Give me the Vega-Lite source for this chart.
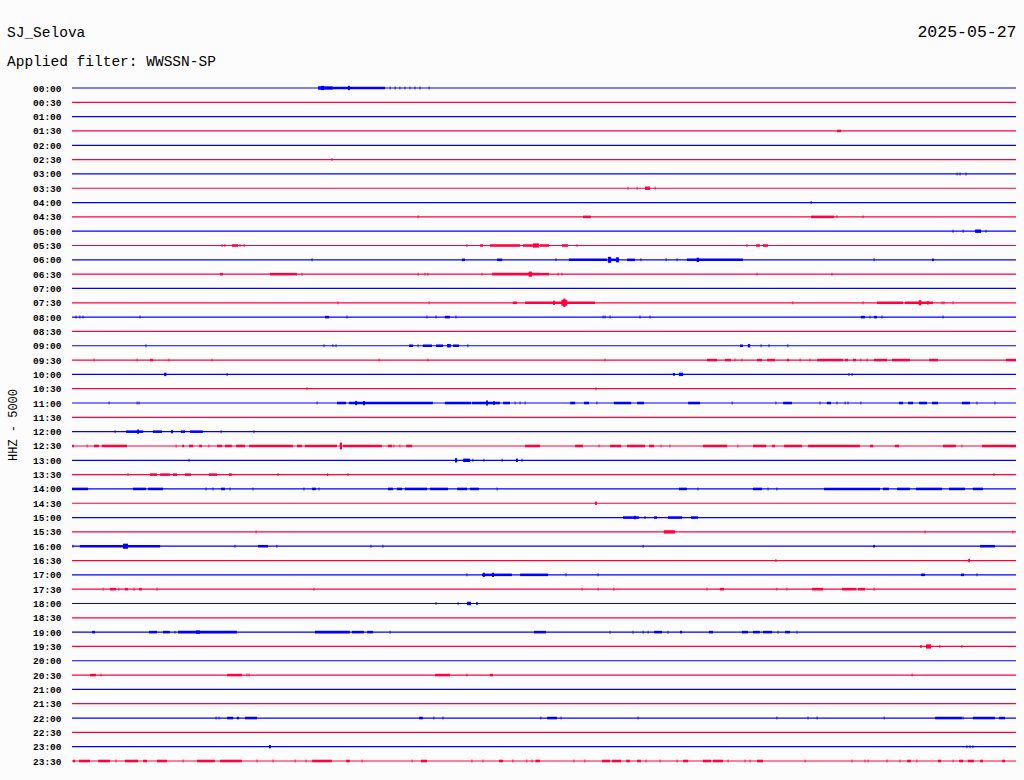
{
"$schema": "https://vega.github.io/schema/vega-lite/v6.json",
"width": 944, "height": 673,
"autosize": {"type": "none"},
"padding": {"left": 72, "top": 88, "right": 8, "bottom": 19},
"background": "#fcfcfc",
"config": {"view": {"stroke": null}, "font": "Liberation Mono"},
"title": {"text": "SJ_Selova", "subtitle": "Applied filter: WWSSN-SP", "anchor": "start", "frame": "group", "dx": -65, "dy": 50, "font": "Liberation Mono", "fontSize": 14.5, "fontWeight": "normal", "color": "#000000", "subtitleFont": "Liberation Mono", "subtitleFontSize": 14.5, "subtitleColor": "#000000", "subtitlePadding": 14},
"datasets": {
"rows": [{"t":"00:00"},{"t":"00:30"},{"t":"01:00"},{"t":"01:30"},{"t":"02:00"},{"t":"02:30"},{"t":"03:00"},{"t":"03:30"},{"t":"04:00"},{"t":"04:30"},{"t":"05:00"},{"t":"05:30"},{"t":"06:00"},{"t":"06:30"},{"t":"07:00"},{"t":"07:30"},{"t":"08:00"},{"t":"08:30"},{"t":"09:00"},{"t":"09:30"},{"t":"10:00"},{"t":"10:30"},{"t":"11:00"},{"t":"11:30"},{"t":"12:00"},{"t":"12:30"},{"t":"13:00"},{"t":"13:30"},{"t":"14:00"},{"t":"14:30"},{"t":"15:00"},{"t":"15:30"},{"t":"16:00"},{"t":"16:30"},{"t":"17:00"},{"t":"17:30"},{"t":"18:00"},{"t":"18:30"},{"t":"19:00"},{"t":"19:30"},{"t":"20:00"},{"t":"20:30"},{"t":"21:00"},{"t":"21:30"},{"t":"22:00"},{"t":"22:30"},{"t":"23:00"},{"t":"23:30"}],
"bursts": [
{"t":"00:00","a":7.82,"b":8.29,"v":4},{"t":"00:00","a":8.29,"b":9.95,"v":3},{"t":"00:00","a":7.91,"b":8.01,"v":5},{"t":"00:00","a":8.77,"b":8.83,"v":5},
{"t":"01:30","a":24.31,"b":24.44,"v":3},
{"t":"03:30","a":18.21,"b":18.37,"v":4},
{"t":"04:30","a":16.24,"b":16.49,"v":3},{"t":"04:30","a":23.49,"b":24.22,"v":3},
{"t":"05:00","a":28.70,"b":28.89,"v":4},
{"t":"05:30","a":5.08,"b":5.28,"v":3},{"t":"05:30","a":12.97,"b":13.06,"v":3},{"t":"05:30","a":13.28,"b":14.24,"v":3},{"t":"05:30","a":14.33,"b":14.65,"v":3},{"t":"05:30","a":14.65,"b":14.84,"v":5},{"t":"05:30","a":14.87,"b":15.16,"v":3},{"t":"05:30","a":15.57,"b":15.76,"v":3},{"t":"05:30","a":21.74,"b":21.86,"v":3},{"t":"05:30","a":21.96,"b":22.12,"v":3},
{"t":"06:00","a":12.39,"b":12.49,"v":3},{"t":"06:00","a":13.51,"b":13.67,"v":3},{"t":"06:00","a":15.79,"b":17.00,"v":3},{"t":"06:00","a":17.03,"b":17.13,"v":7},{"t":"06:00","a":17.10,"b":17.29,"v":3},{"t":"06:00","a":17.29,"b":17.38,"v":6},{"t":"06:00","a":17.64,"b":17.89,"v":3},{"t":"06:00","a":19.54,"b":21.32,"v":3},{"t":"06:00","a":19.85,"b":19.93,"v":5},{"t":"06:00","a":27.33,"b":27.39,"v":3},
{"t":"06:30","a":4.70,"b":4.80,"v":3},{"t":"06:30","a":6.29,"b":7.15,"v":3},{"t":"06:30","a":13.35,"b":14.87,"v":3},{"t":"06:30","a":14.51,"b":14.62,"v":6},{"t":"06:30","a":14.87,"b":15.16,"v":3},
{"t":"07:30","a":14.01,"b":14.14,"v":3},{"t":"07:30","a":14.40,"b":16.62,"v":3},{"t":"07:30","a":15.29,"b":15.35,"v":5},{"t":"07:30","a":15.55,"b":15.74,"v":7},{"t":"07:30","a":15.61,"b":15.68,"v":10},{"t":"07:30","a":25.58,"b":26.41,"v":3},{"t":"07:30","a":26.47,"b":27.36,"v":3},{"t":"07:30","a":26.91,"b":26.99,"v":6},{"t":"07:30","a":27.17,"b":27.23,"v":4},
{"t":"08:00","a":8.04,"b":8.17,"v":3},{"t":"08:00","a":11.85,"b":12.01,"v":3},{"t":"08:00","a":25.07,"b":25.20,"v":3},{"t":"08:00","a":25.49,"b":25.58,"v":3},
{"t":"09:00","a":10.71,"b":10.84,"v":3},{"t":"09:00","a":11.15,"b":11.44,"v":3},{"t":"09:00","a":11.57,"b":11.79,"v":3},{"t":"09:00","a":11.92,"b":12.04,"v":4},{"t":"09:00","a":12.11,"b":12.30,"v":3},{"t":"09:00","a":21.23,"b":21.32,"v":3},{"t":"09:00","a":21.48,"b":21.55,"v":4},
{"t":"09:30","a":2.48,"b":2.57,"v":3},{"t":"09:30","a":20.18,"b":20.50,"v":3},{"t":"09:30","a":20.75,"b":20.94,"v":3},{"t":"09:30","a":21.77,"b":21.93,"v":3},{"t":"09:30","a":22.09,"b":22.34,"v":3},{"t":"09:30","a":22.72,"b":22.79,"v":3},{"t":"09:30","a":23.68,"b":24.50,"v":3},{"t":"09:30","a":24.57,"b":24.66,"v":3},{"t":"09:30","a":24.82,"b":24.92,"v":3},{"t":"09:30","a":25.49,"b":25.90,"v":3},{"t":"09:30","a":26.06,"b":26.63,"v":3},{"t":"09:30","a":27.24,"b":27.52,"v":3},{"t":"09:30","a":29.68,"b":30.00,"v":3},
{"t":"10:00","a":2.93,"b":3.00,"v":4},{"t":"10:00","a":19.10,"b":19.16,"v":3},{"t":"10:00","a":19.29,"b":19.42,"v":4},
{"t":"11:00","a":8.42,"b":8.71,"v":3},{"t":"11:00","a":8.80,"b":11.47,"v":3},{"t":"11:00","a":9.00,"b":9.06,"v":5},{"t":"11:00","a":9.25,"b":9.31,"v":5},{"t":"11:00","a":11.85,"b":12.68,"v":3},{"t":"11:00","a":12.71,"b":13.60,"v":3},{"t":"11:00","a":13.16,"b":13.22,"v":6},{"t":"11:00","a":13.38,"b":13.44,"v":4},{"t":"11:00","a":13.70,"b":13.92,"v":3},{"t":"11:00","a":15.83,"b":15.99,"v":3},{"t":"11:00","a":16.27,"b":16.43,"v":3},{"t":"11:00","a":17.22,"b":17.77,"v":3},{"t":"11:00","a":17.96,"b":18.18,"v":3},{"t":"11:00","a":19.58,"b":19.96,"v":3},{"t":"11:00","a":22.60,"b":22.88,"v":3},{"t":"11:00","a":23.99,"b":24.12,"v":3},{"t":"11:00","a":26.28,"b":26.41,"v":3},{"t":"11:00","a":26.57,"b":26.73,"v":3},{"t":"11:00","a":26.92,"b":27.17,"v":3},{"t":"11:00","a":27.33,"b":27.52,"v":3},{"t":"11:00","a":28.28,"b":28.54,"v":3},
{"t":"12:00","a":1.72,"b":2.26,"v":3},{"t":"12:00","a":2.07,"b":2.13,"v":5},{"t":"12:00","a":2.57,"b":2.86,"v":3},{"t":"12:00","a":3.15,"b":3.21,"v":4},{"t":"12:00","a":3.46,"b":3.59,"v":3},{"t":"12:00","a":3.75,"b":4.16,"v":3},
{"t":"12:30","a":0.00,"b":0.06,"v":3},{"t":"12:30","a":0.70,"b":0.86,"v":3},{"t":"12:30","a":0.95,"b":1.75,"v":3},{"t":"12:30","a":3.50,"b":3.56,"v":3},{"t":"12:30","a":3.72,"b":3.85,"v":3},{"t":"12:30","a":4.04,"b":4.13,"v":3},{"t":"12:30","a":4.61,"b":4.77,"v":3},{"t":"12:30","a":4.86,"b":5.08,"v":3},{"t":"12:30","a":5.21,"b":5.50,"v":3},{"t":"12:30","a":5.63,"b":7.02,"v":3},{"t":"12:30","a":7.15,"b":7.31,"v":3},{"t":"12:30","a":7.40,"b":8.42,"v":3},{"t":"12:30","a":8.51,"b":8.58,"v":8},{"t":"12:30","a":8.61,"b":9.85,"v":3},{"t":"12:30","a":10.04,"b":10.17,"v":3},{"t":"12:30","a":10.62,"b":10.81,"v":3},{"t":"12:30","a":14.40,"b":14.87,"v":3},{"t":"12:30","a":15.99,"b":16.24,"v":3},{"t":"12:30","a":17.10,"b":17.45,"v":3},{"t":"12:30","a":17.64,"b":18.21,"v":3},{"t":"12:30","a":18.34,"b":18.50,"v":3},{"t":"12:30","a":20.05,"b":20.82,"v":3},{"t":"12:30","a":21.64,"b":22.06,"v":3},{"t":"12:30","a":22.25,"b":22.34,"v":3},{"t":"12:30","a":22.63,"b":23.20,"v":3},{"t":"12:30","a":23.39,"b":25.04,"v":3},{"t":"12:30","a":25.36,"b":25.46,"v":3},{"t":"12:30","a":26.15,"b":26.28,"v":3},{"t":"12:30","a":27.68,"b":28.09,"v":3},{"t":"12:30","a":28.92,"b":30.00,"v":3},
{"t":"13:00","a":12.17,"b":12.24,"v":5},{"t":"13:00","a":12.43,"b":12.65,"v":4},{"t":"13:00","a":14.11,"b":14.17,"v":4},
{"t":"13:30","a":2.48,"b":2.70,"v":3},{"t":"13:30","a":2.80,"b":3.11,"v":3},{"t":"13:30","a":3.21,"b":3.34,"v":3},{"t":"13:30","a":3.59,"b":3.78,"v":3},{"t":"13:30","a":4.35,"b":4.61,"v":3},{"t":"13:30","a":4.99,"b":5.08,"v":3},{"t":"13:30","a":8.10,"b":8.14,"v":3},
{"t":"14:00","a":0.00,"b":0.51,"v":3},{"t":"14:00","a":1.94,"b":2.35,"v":3},{"t":"14:00","a":2.42,"b":2.89,"v":3},{"t":"14:00","a":4.74,"b":4.86,"v":3},{"t":"14:00","a":7.63,"b":7.75,"v":3},{"t":"14:00","a":10.04,"b":10.20,"v":3},{"t":"14:00","a":10.33,"b":10.49,"v":3},{"t":"14:00","a":10.58,"b":11.28,"v":3},{"t":"14:00","a":11.38,"b":11.95,"v":3},{"t":"14:00","a":12.24,"b":12.55,"v":3},{"t":"14:00","a":12.65,"b":12.93,"v":3},{"t":"14:00","a":19.29,"b":19.54,"v":3},{"t":"14:00","a":21.64,"b":21.93,"v":3},{"t":"14:00","a":23.90,"b":25.68,"v":3},{"t":"14:00","a":25.77,"b":25.96,"v":3},{"t":"14:00","a":26.22,"b":26.63,"v":3},{"t":"14:00","a":26.82,"b":27.65,"v":3},{"t":"14:00","a":27.87,"b":28.38,"v":3},{"t":"14:00","a":28.63,"b":28.95,"v":3},
{"t":"14:30","a":16.62,"b":16.68,"v":4},
{"t":"15:00","a":17.51,"b":18.02,"v":3},{"t":"15:00","a":17.86,"b":17.92,"v":4},{"t":"15:00","a":18.50,"b":18.59,"v":3},{"t":"15:00","a":18.94,"b":19.39,"v":3},{"t":"15:00","a":19.67,"b":19.89,"v":3},
{"t":"15:30","a":18.81,"b":19.16,"v":4},
{"t":"16:00","a":0.25,"b":1.62,"v":3},{"t":"16:00","a":1.62,"b":1.78,"v":6},{"t":"16:00","a":1.78,"b":2.80,"v":3},{"t":"16:00","a":5.91,"b":6.23,"v":3},{"t":"16:00","a":25.46,"b":25.52,"v":3},{"t":"16:00","a":28.86,"b":29.33,"v":3},
{"t":"16:30","a":28.48,"b":28.54,"v":4},
{"t":"17:00","a":13.03,"b":13.98,"v":3},{"t":"17:00","a":13.06,"b":13.12,"v":5},{"t":"17:00","a":13.35,"b":13.41,"v":5},{"t":"17:00","a":14.24,"b":15.13,"v":3},{"t":"17:00","a":26.98,"b":27.11,"v":3},{"t":"17:00","a":28.25,"b":28.35,"v":3},
{"t":"17:30","a":1.21,"b":1.40,"v":3},{"t":"17:30","a":1.68,"b":1.78,"v":3},{"t":"17:30","a":2.13,"b":2.22,"v":3},{"t":"17:30","a":20.59,"b":20.72,"v":3},{"t":"17:30","a":23.52,"b":23.87,"v":3},{"t":"17:30","a":24.47,"b":24.92,"v":3},{"t":"17:30","a":24.98,"b":25.20,"v":3},
{"t":"18:00","a":12.55,"b":12.68,"v":4},{"t":"18:00","a":12.84,"b":12.90,"v":3},
{"t":"19:00","a":0.64,"b":0.73,"v":3},{"t":"19:00","a":2.45,"b":2.70,"v":3},{"t":"19:00","a":2.89,"b":3.11,"v":3},{"t":"19:00","a":3.37,"b":5.24,"v":3},{"t":"19:00","a":3.94,"b":4.07,"v":4},{"t":"19:00","a":7.72,"b":8.83,"v":3},{"t":"19:00","a":8.90,"b":9.28,"v":3},{"t":"19:00","a":9.38,"b":9.57,"v":3},{"t":"19:00","a":14.68,"b":15.06,"v":3},{"t":"19:00","a":18.50,"b":18.75,"v":3},{"t":"19:00","a":19.32,"b":19.39,"v":3},{"t":"19:00","a":20.24,"b":20.37,"v":3},{"t":"19:00","a":21.29,"b":21.48,"v":3},{"t":"19:00","a":21.64,"b":21.86,"v":3},{"t":"19:00","a":21.96,"b":22.25,"v":3},{"t":"19:00","a":22.66,"b":22.82,"v":3},
{"t":"19:30","a":26.95,"b":27.01,"v":3},{"t":"19:30","a":27.14,"b":27.30,"v":5},
{"t":"20:30","a":0.57,"b":0.76,"v":3},{"t":"20:30","a":4.93,"b":5.40,"v":3},{"t":"20:30","a":11.54,"b":12.01,"v":3},{"t":"20:30","a":13.28,"b":13.38,"v":3},
{"t":"22:00","a":4.93,"b":5.12,"v":3},{"t":"22:00","a":5.24,"b":5.31,"v":3},{"t":"22:00","a":5.50,"b":5.88,"v":3},{"t":"22:00","a":11.03,"b":11.15,"v":3},{"t":"22:00","a":15.10,"b":15.41,"v":3},{"t":"22:00","a":27.43,"b":28.28,"v":3},{"t":"22:00","a":28.63,"b":29.33,"v":3},{"t":"22:00","a":29.46,"b":29.65,"v":3},
{"t":"23:00","a":6.26,"b":6.32,"v":4},
{"t":"23:30","a":0.03,"b":0.10,"v":3},{"t":"23:30","a":0.22,"b":0.57,"v":3},{"t":"23:30","a":0.83,"b":1.21,"v":3},{"t":"23:30","a":1.68,"b":2.10,"v":3},{"t":"23:30","a":2.26,"b":2.38,"v":3},{"t":"23:30","a":2.70,"b":3.02,"v":3},{"t":"23:30","a":3.97,"b":4.54,"v":3},{"t":"23:30","a":4.70,"b":5.40,"v":3},{"t":"23:30","a":7.63,"b":8.26,"v":3},{"t":"23:30","a":8.71,"b":8.83,"v":3},{"t":"23:30","a":11.09,"b":11.28,"v":3},{"t":"23:30","a":13.57,"b":13.70,"v":3},{"t":"23:30","a":14.73,"b":14.87,"v":3},{"t":"23:30","a":16.84,"b":17.10,"v":3},{"t":"23:30","a":17.16,"b":17.45,"v":3},{"t":"23:30","a":17.61,"b":17.73,"v":3},{"t":"23:30","a":17.96,"b":18.08,"v":3},{"t":"23:30","a":19.42,"b":19.58,"v":3},{"t":"23:30","a":20.05,"b":20.31,"v":3},{"t":"23:30","a":20.37,"b":20.69,"v":3},{"t":"23:30","a":21.77,"b":21.96,"v":3},{"t":"23:30","a":26.54,"b":26.66,"v":3},{"t":"23:30","a":27.52,"b":27.62,"v":3},{"t":"23:30","a":28.19,"b":28.32,"v":3},{"t":"23:30","a":28.47,"b":28.66,"v":3},{"t":"23:30","a":28.86,"b":28.95,"v":3},{"t":"23:30","a":29.56,"b":29.65,"v":3}
],
"ticks": [
{"t":"00:00","a":10.11},{"t":"00:00","a":10.27},{"t":"00:00","a":10.42},{"t":"00:00","a":10.58},{"t":"00:00","a":10.74},{"t":"00:00","a":10.90},{"t":"00:00","a":11.06},{"t":"00:00","a":11.35},
{"t":"02:30","a":8.26},
{"t":"03:00","a":28.13},{"t":"03:00","a":28.22},{"t":"03:00","a":28.41},
{"t":"03:30","a":17.67},{"t":"03:30","a":17.96},{"t":"03:30","a":18.53},
{"t":"04:00","a":23.49},
{"t":"04:30","a":11.00},{"t":"04:30","a":24.31},{"t":"04:30","a":25.14},
{"t":"05:00","a":28.00},{"t":"05:00","a":28.32},{"t":"05:00","a":29.05},
{"t":"05:30","a":4.77},{"t":"05:30","a":4.86},{"t":"05:30","a":5.34},{"t":"05:30","a":5.47},{"t":"05:30","a":12.55},{"t":"05:30","a":16.05},{"t":"05:30","a":21.45},
{"t":"06:00","a":7.63},{"t":"06:00","a":15.38},{"t":"06:00","a":18.08},{"t":"06:00","a":18.88},{"t":"06:00","a":19.23},{"t":"06:00","a":25.49},
{"t":"06:30","a":7.31},{"t":"06:30","a":11.00},{"t":"06:30","a":11.22},{"t":"06:30","a":11.31},{"t":"06:30","a":13.03},{"t":"06:30","a":15.45},{"t":"06:30","a":15.57},{"t":"06:30","a":21.77},{"t":"06:30","a":24.15},
{"t":"07:30","a":8.45},{"t":"07:30","a":11.35},{"t":"07:30","a":22.91},{"t":"07:30","a":25.14},{"t":"07:30","a":27.65},{"t":"07:30","a":27.71},{"t":"07:30","a":28.00},
{"t":"08:00","a":0.13},{"t":"08:00","a":0.25},{"t":"08:00","a":0.35},{"t":"08:00","a":2.16},{"t":"08:00","a":8.74},{"t":"08:00","a":11.28},{"t":"08:00","a":11.57},{"t":"08:00","a":12.20},{"t":"08:00","a":16.88},{"t":"08:00","a":16.94},{"t":"08:00","a":17.10},{"t":"08:00","a":18.05},{"t":"08:00","a":18.37},{"t":"08:00","a":25.36},{"t":"08:00","a":25.74},{"t":"08:00","a":27.68},
{"t":"09:00","a":2.35},{"t":"09:00","a":8.01},{"t":"09:00","a":8.29},{"t":"09:00","a":8.39},{"t":"09:00","a":11.00},{"t":"09:00","a":12.58},{"t":"09:00","a":21.90},{"t":"09:00","a":22.15},{"t":"09:00","a":22.75},
{"t":"09:30","a":0.70},{"t":"09:30","a":2.07},{"t":"09:30","a":3.08},{"t":"09:30","a":4.45},{"t":"09:30","a":9.76},{"t":"09:30","a":11.31},{"t":"09:30","a":16.94},{"t":"09:30","a":21.07},{"t":"09:30","a":21.29},{"t":"09:30","a":23.14},{"t":"09:30","a":23.45},{"t":"09:30","a":25.07},{"t":"09:30","a":25.27},
{"t":"10:00","a":4.93},{"t":"10:00","a":24.69},{"t":"10:00","a":24.79},
{"t":"10:30","a":7.47},{"t":"10:30","a":16.65},
{"t":"11:00","a":1.18},{"t":"11:00","a":2.07},{"t":"11:00","a":2.13},{"t":"11:00","a":7.79},{"t":"11:00","a":14.08},{"t":"11:00","a":14.24},{"t":"11:00","a":14.40},{"t":"11:00","a":16.68},{"t":"11:00","a":20.98},{"t":"11:00","a":22.37},{"t":"11:00","a":23.77},{"t":"11:00","a":24.31},{"t":"11:00","a":24.57},{"t":"11:00","a":24.66},{"t":"11:00","a":25.07},{"t":"11:00","a":28.76},{"t":"11:00","a":29.33},
{"t":"12:00","a":1.37},{"t":"12:00","a":4.74},{"t":"12:00","a":5.78},
{"t":"12:30","a":0.48},{"t":"12:30","a":3.31},{"t":"12:30","a":4.35},{"t":"12:30","a":10.23},{"t":"12:30","a":10.42},{"t":"12:30","a":16.75},{"t":"12:30","a":18.72},{"t":"12:30","a":19.00},{"t":"12:30","a":21.16},{"t":"12:30","a":28.28},
{"t":"13:00","a":3.72},{"t":"13:00","a":12.74},{"t":"13:00","a":13.09},{"t":"13:00","a":13.67},{"t":"13:00","a":14.30},
{"t":"13:30","a":1.78},{"t":"13:30","a":6.55},{"t":"13:30","a":8.77},{"t":"13:30","a":29.30},
{"t":"14:00","a":4.26},{"t":"14:00","a":4.48},{"t":"14:00","a":5.02},{"t":"14:00","a":5.75},{"t":"14:00","a":7.37},{"t":"14:00","a":7.85},{"t":"14:00","a":13.51},{"t":"14:00","a":19.89},{"t":"14:00","a":22.12},{"t":"14:00","a":22.40},
{"t":"15:00","a":18.21},
{"t":"15:30","a":5.85},{"t":"15:30","a":27.11},{"t":"15:30","a":29.90},
{"t":"16:00","a":0.03},{"t":"16:00","a":5.18},{"t":"16:00","a":6.51},{"t":"16:00","a":9.50},{"t":"16:00","a":9.88},{"t":"16:00","a":18.15},
{"t":"16:30","a":22.37},
{"t":"17:00","a":12.55},{"t":"17:00","a":15.70},{"t":"17:00","a":16.72},{"t":"17:00","a":28.76},
{"t":"17:30","a":0.99},{"t":"17:30","a":1.49},{"t":"17:30","a":1.97},{"t":"17:30","a":2.70},{"t":"17:30","a":7.69},{"t":"17:30","a":16.21},{"t":"17:30","a":16.72},{"t":"17:30","a":17.22},{"t":"17:30","a":20.18},{"t":"17:30","a":22.40},{"t":"17:30","a":22.72},{"t":"17:30","a":25.49},
{"t":"18:00","a":11.57},{"t":"18:00","a":12.27},
{"t":"19:00","a":3.27},{"t":"19:00","a":10.11},{"t":"19:00","a":17.10},{"t":"19:00","a":17.83},{"t":"19:00","a":18.15},{"t":"19:00","a":18.31},{"t":"19:00","a":18.94},{"t":"19:00","a":22.44},{"t":"19:00","a":23.04},
{"t":"19:30","a":27.58},{"t":"19:30","a":28.28},
{"t":"20:30","a":0.92},{"t":"20:30","a":5.56},{"t":"20:30","a":5.63},{"t":"20:30","a":12.55},{"t":"20:30","a":26.70},
{"t":"22:00","a":4.58},{"t":"22:00","a":4.67},{"t":"22:00","a":11.50},{"t":"22:00","a":11.79},{"t":"22:00","a":14.90},{"t":"22:00","a":15.54},{"t":"22:00","a":17.99},{"t":"22:00","a":22.40},{"t":"22:00","a":23.39},{"t":"22:00","a":23.68},{"t":"22:00","a":25.81},{"t":"22:00","a":28.32},
{"t":"23:00","a":28.44},{"t":"23:00","a":28.54},{"t":"23:00","a":28.63},
{"t":"23:30","a":1.40},{"t":"23:30","a":3.53},{"t":"23:30","a":5.88},{"t":"23:30","a":6.39},{"t":"23:30","a":7.09},{"t":"23:30","a":7.44},{"t":"23:30","a":9.22},{"t":"23:30","a":10.81},{"t":"23:30","a":12.71},{"t":"23:30","a":13.06},{"t":"23:30","a":14.01},{"t":"23:30","a":14.45},{"t":"23:30","a":14.62},{"t":"23:30","a":15.95},{"t":"23:30","a":16.30},{"t":"23:30","a":18.24},{"t":"23:30","a":18.69},{"t":"23:30","a":19.23},{"t":"23:30","a":20.85},{"t":"23:30","a":21.39},{"t":"23:30","a":21.55},{"t":"23:30","a":23.30},{"t":"23:30","a":24.79},{"t":"23:30","a":25.20},{"t":"23:30","a":25.30},{"t":"23:30","a":25.90},{"t":"23:30","a":26.31},{"t":"23:30","a":26.85},{"t":"23:30","a":28.00}
]
},
"encoding": {
"y": {"field": "t", "type": "nominal", "scale": {"type": "point", "padding": 0, "domain": ["00:00","00:30","01:00","01:30","02:00","02:30","03:00","03:30","04:00","04:30","05:00","05:30","06:00","06:30","07:00","07:30","08:00","08:30","09:00","09:30","10:00","10:30","11:00","11:30","12:00","12:30","13:00","13:30","14:00","14:30","15:00","15:30","16:00","16:30","17:00","17:30","18:00","18:30","19:00","19:30","20:00","20:30","21:00","21:30","22:00","22:30","23:00","23:30"]},
  "axis": {"title": "HHZ - 5000", "titleX": -60, "titleY": 336.5, "titleAngle": -90, "titleAlign": "center", "titleBaseline": "middle", "titleFont": "Liberation Mono", "titleFontSize": 12, "titleFontWeight": "normal", "titleColor": "#000000", "labelFont": "Liberation Mono", "labelFontSize": 9.5, "labelFontWeight": "bold", "labelColor": "#000000", "labelPadding": 11, "ticks": false, "domain": false, "grid": false}},
"color": {"field": "t", "type": "nominal", "legend": null, "scale": {"domain": ["00:00","00:30","01:00","01:30","02:00","02:30","03:00","03:30","04:00","04:30","05:00","05:30","06:00","06:30","07:00","07:30","08:00","08:30","09:00","09:30","10:00","10:30","11:00","11:30","12:00","12:30","13:00","13:30","14:00","14:30","15:00","15:30","16:00","16:30","17:00","17:30","18:00","18:30","19:00","19:30","20:00","20:30","21:00","21:30","22:00","22:30","23:00","23:30"],
  "range": ["#0000ff","#ff0040","#0000ff","#ff0040","#0000ff","#ff0040","#0000ff","#ff0040","#0000ff","#ff0040","#0000ff","#ff0040","#0000ff","#ff0040","#0000ff","#ff0040","#0000ff","#ff0040","#0000ff","#ff0040","#0000ff","#ff0040","#0000ff","#ff0040","#0000ff","#ff0040","#0000ff","#ff0040","#0000ff","#ff0040","#0000ff","#ff0040","#0000ff","#ff0040","#0000ff","#ff0040","#0000ff","#ff0040","#0000ff","#ff0040","#0000ff","#ff0040","#0000ff","#ff0040","#0000ff","#ff0040","#0000ff","#ff0040"]}}
},
"layer": [
{"data": {"name": "rows"}, "mark": {"type": "rule", "strokeWidth": 1.2},
 "encoding": {"x": {"datum": 0, "type": "quantitative", "scale": {"domain": [0, 30], "nice": false, "zero": false}, "axis": {"orient": "top", "title": "2025-05-27", "labels": false, "ticks": false, "domain": false, "grid": false, "titleX": 944, "titleY": -52, "titleAlign": "right", "titleBaseline": "alphabetic", "titleFont": "Liberation Mono", "titleFontSize": 16.5, "titleFontWeight": "normal", "titleColor": "#000000"}}, "x2": {"datum": 30}}},
{"data": {"name": "bursts"}, "mark": {"type": "rule"},
 "encoding": {"x": {"field": "a", "type": "quantitative", "axis": {"orient": "top", "title": "2025-05-27", "labels": false, "ticks": false, "domain": false, "grid": false, "titleX": 944, "titleY": -52, "titleAlign": "right", "titleBaseline": "alphabetic", "titleFont": "Liberation Mono", "titleFontSize": 16.5, "titleFontWeight": "normal", "titleColor": "#000000"}}, "x2": {"field": "b"}, "size": {"field": "v", "type": "quantitative", "scale": {"type": "linear", "domain": [0, 10], "range": [0, 8.5]}, "legend": null}}},
{"data": {"name": "ticks"}, "mark": {"type": "tick", "orient": "vertical", "size": 3, "thickness": 1.2},
 "encoding": {"x": {"field": "a", "type": "quantitative", "axis": {"orient": "top", "title": "2025-05-27", "labels": false, "ticks": false, "domain": false, "grid": false, "titleX": 944, "titleY": -52, "titleAlign": "right", "titleBaseline": "alphabetic", "titleFont": "Liberation Mono", "titleFontSize": 16.5, "titleFontWeight": "normal", "titleColor": "#000000"}}}}
]
}
